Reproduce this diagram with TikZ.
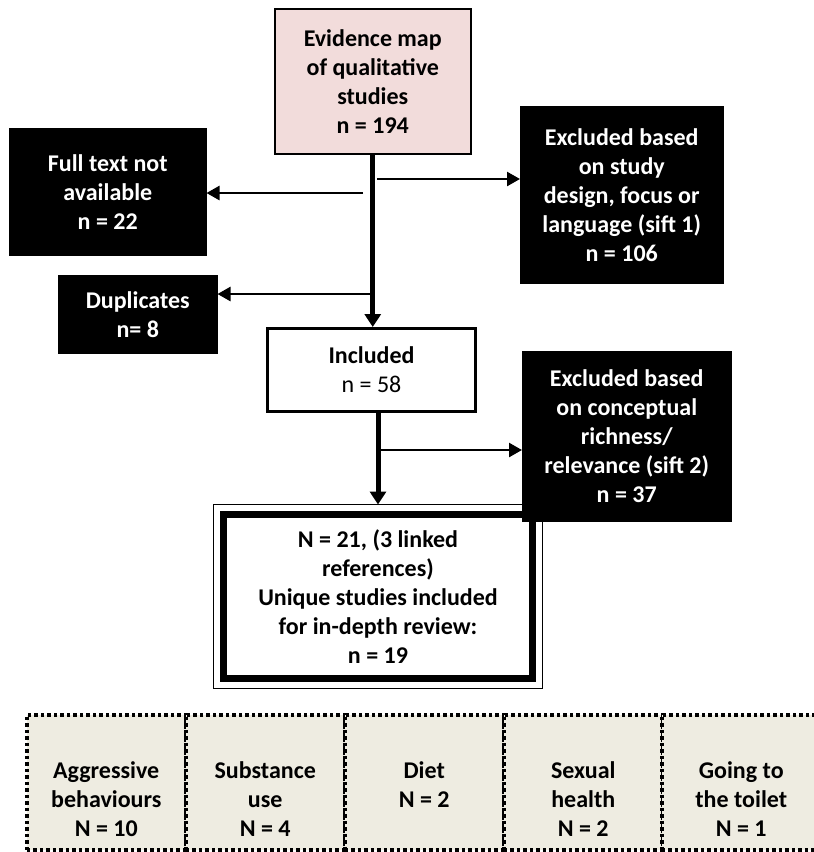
\documentclass[tikz,border=0pt]{standalone}
\usepackage{fontspec}
\setmainfont{Carlito}
\usetikzlibrary{arrows.meta}
\definecolor{evpink}{RGB}{242,220,219}
\definecolor{cattan}{RGB}{238,236,225}
\begin{document}
\begin{tikzpicture}[x=1pt,y=-1pt,
  txt/.style={font=\fontsize{24}{29}\selectfont\bfseries, align=center, inner sep=0pt},
  box/.style={txt, anchor=north west, draw=black},
  blackbox/.style={box, fill=black, text=white, line width=0.5pt},
  catbox/.style={anchor=north west, draw=black, fill=cattan, line width=3.5pt, dash pattern=on 3.5pt off 3pt, minimum width=159pt, minimum height=135pt, inner sep=0pt},
  cattext/.style={txt, anchor=north},
  mainarrow/.style={line width=5pt, -{Triangle[length=13pt,width=16pt]}},
  sidearrow/.style={line width=2.5pt, -{Triangle[length=13pt,width=14pt]}}
]
\useasboundingbox (0,0) rectangle (814,852);

% top box
\node[box, fill=evpink, line width=1.5pt, minimum width=196pt, minimum height=145pt] (ev) at (274,8)
  {Evidence map\\of qualitative\\studies\\n = 194};

% side boxes
\node[blackbox, minimum width=197pt, minimum height=127pt] (ft) at (9,128)
  {Full text not\\available\\n = 22};
\node[blackbox, minimum width=203pt, minimum height=177pt] (ex1) at (520,106)
  {Excluded based\\on study\\design, focus or\\language (sift 1)\\n = 106};
\node[blackbox, minimum width=159pt, minimum height=78pt] (dup) at (58,275)
  {Duplicates\\n= 8};

% included
\node[box, line width=3pt, minimum width=208pt, minimum height=83pt] (inc) at (266,327)
  {Included\\\mdseries n = 58};

% final box (thick inner frame plus thin outer frame)
\node[box, line width=7pt, minimum width=309pt, minimum height=164pt] (fin) at (220,511)
  {N = 21, (3 linked\\references)\\Unique studies included\\for in-depth review:\\n = 19};
\draw[line width=1.5pt] ([shift={(-6.5pt,6.5pt)}]fin.north west) rectangle ([shift={(6.5pt,-6.5pt)}]fin.south east);
\coordinate (fintop) at ([yshift=6.5pt]fin.north);

\node[blackbox, minimum width=209pt, minimum height=170pt] (ex2) at (522,351)
  {Excluded based\\on conceptual\\richness/\\relevance (sift 2)\\n = 37};

% branch points
\coordinate (b1) at (377,179);
\coordinate (b2) at (363,193);
\coordinate (b3) at (372,294);
\coordinate (b4) at (378,450);

% connectors
\draw[mainarrow] (ev.south) -- (ev.south |- inc.north);
\draw[sidearrow] (b1) -- (b1 -| ex1.west);
\draw[sidearrow] (b2) -- (b2 -| ft.east);
\draw[sidearrow] (b3) -- (b3 -| dup.east);
\draw[mainarrow] (inc.south -| b4) -- (fintop -| b4);
\draw[sidearrow] (b4) -- (b4 -| ex2.west);

% categories
\node[catbox] (c1) at (25,713) {};
\node[catbox] (c2) at (184,713) {};
\node[catbox] (c3) at (343,713) {};
\node[catbox] (c4) at (502,713) {};
\node[catbox] (c5) at (660,713) {};
\node[cattext] (t1) at (c1.center |- 0,761) {Aggressive\\behaviours\\N = 10};
\node[cattext] (t2) at (c2.center |- 0,761) {Substance\\use\\N = 4};
\node[cattext] (t3) at (c3.center |- 0,761) {Diet\\N = 2};
\node[cattext] (t4) at (c4.center |- 0,761) {Sexual\\health\\N = 2};
\node[cattext] (t5) at (c5.center |- 0,761) {Going to\\the toilet\\N = 1};
\end{tikzpicture}
\end{document}
